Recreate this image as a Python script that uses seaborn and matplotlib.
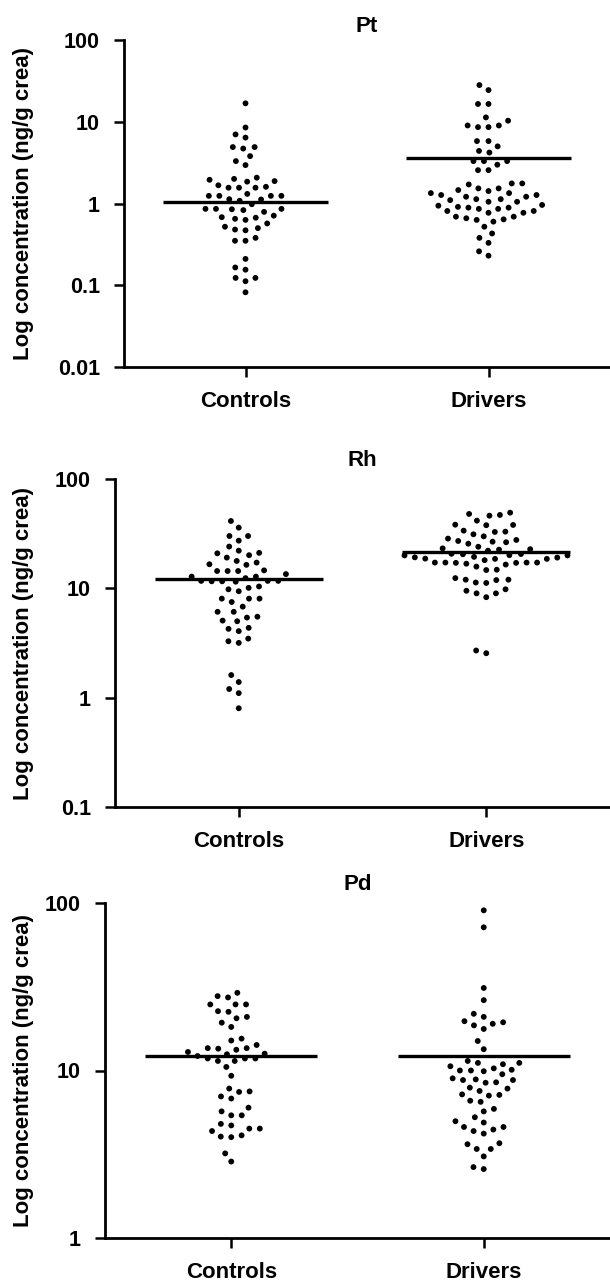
import matplotlib
matplotlib.use('Agg')
import matplotlib.pyplot as plt
from matplotlib.ticker import NullLocator
import seaborn as sns
import pandas as pd

# categories
groups = ['Controls', 'Drivers']

# Pt (ng/g crea)
pt_controls = [16.8, 8.5, 7.0, 6.4, 4.9, 4.7, 4.9, 3.8, 3.3, 2.95, 2.07, 1.95, 1.85, 1.88,
               2.0, 1.6, 1.56, 1.56, 1.56, 1.67, 1.31, 1.24, 1.24, 1.12, 1.13, 1.24, 1.24,
               1.08, 0.98, 0.86, 0.85, 0.83, 0.86, 0.86, 0.79, 0.71, 0.67, 0.63, 0.65, 0.68,
               0.57, 0.52, 0.48, 0.47, 0.50, 0.38, 0.35, 0.35, 0.21, 0.165, 0.155, 0.123,
               0.123, 0.112, 0.082]
pt_drivers = [28.1, 24.4, 16.5, 16.5, 11.3, 10.3, 9.0, 8.6, 8.6, 9.0, 5.8, 5.8, 5.0, 4.4,
              4.2, 3.3, 3.3, 3.3, 2.98, 2.56, 2.56, 1.76, 1.53, 1.46, 1.42, 1.53, 1.71, 1.76,
              1.34, 1.27, 1.21, 1.13, 1.10, 1.05, 1.05, 1.13, 1.21, 1.27, 1.34, 0.94, 0.89,
              0.86, 0.81, 0.77, 0.77, 0.81, 0.86, 0.89, 0.91, 0.96, 0.69, 0.66, 0.63, 0.60,
              0.64, 0.69, 0.52, 0.43, 0.38, 0.33, 0.26, 0.23]
pt_lines = [1.03, 3.56]
pt_ticks = [0.01, 0.1, 1, 10, 100]
pt_labels = ['0.01', '0.1', '1', '10', '100']

# Rh (ng/g crea)
rh_controls = [41.3, 35.9, 30.1, 30.1, 27.3, 24.1, 22.1, 20.9, 19.1, 20.1, 21.1, 17.2, 16.4,
               16.6, 17.8, 14.4, 13.5, 14.6, 14.4, 14.4, 12.8, 12.8, 12.4, 11.7, 11.6, 11.7,
               11.5, 11.6, 11.7, 10.4, 9.8, 10.1, 9.4, 8.05, 8.05, 8.05, 7.5, 6.8, 6.1, 6.1,
               5.4, 5.5, 5.0, 5.07, 4.35, 4.26, 4.06, 3.47, 3.28, 3.17, 1.61, 1.39, 1.20,
               1.10, 0.80]
rh_drivers = [49.2, 46.9, 47.9, 46.2, 41.6, 38.0, 37.8, 38.2, 33.7, 33.0, 32.8, 31.2, 29.9,
              28.5, 27.7, 27.1, 26.7, 26.4, 25.6, 24.0, 23.2, 22.6, 22.1, 22.8, 20.5, 20.0,
              20.0, 20.6, 20.1, 20.7, 19.1, 18.6, 18.6, 18.7, 19.2, 19.4, 18.1, 17.2, 17.1,
              16.8, 16.5, 17.2, 17.1, 17.2, 17.2, 15.8, 14.8, 14.7, 12.4, 12.0, 12.0, 11.9,
              11.2, 11.3, 9.8, 9.5, 9.0, 9.0, 8.3, 2.70, 2.55]
rh_lines = [12.1, 21.5]
rh_ticks = [0.1, 1, 10, 100]
rh_labels = ['0.1', '1', '10', '100']

# Pd (ng/g crea)
pd_controls = [29.1, 27.8, 27.3, 24.8, 24.8, 24.8, 22.6, 22.4, 20.9, 20.5, 19.3, 18.2, 15.5,
               15.1, 14.2, 13.6, 13.5, 13.6, 13.3, 12.9, 12.5, 12.6, 12.2, 11.8, 11.8, 11.8,
               11.4, 11.4, 10.5, 9.3, 7.8, 7.45, 7.5, 7.0, 6.8, 6.0, 5.7, 5.4, 5.4, 4.8, 4.7,
               4.5, 4.35, 4.5, 4.1, 4.03, 4.0, 3.2, 2.86]
pd_drivers = [90.4, 71.6, 31.1, 26.3, 21.8, 20.9, 19.4, 18.6, 19.0, 19.7, 17.7, 15.0, 13.4,
              11.4, 11.1, 11.1, 10.9, 10.6, 10.3, 10.1, 10.0, 9.9, 10.0, 9.5, 8.98, 8.85,
              8.77, 8.77, 8.45, 8.5, 7.9, 7.8, 7.55, 7.2, 7.15, 7.08, 6.6, 6.5, 5.9, 5.7,
              5.26, 4.98, 4.89, 4.6, 4.6, 4.44, 4.35, 4.2, 3.68, 3.63, 3.40, 3.40, 3.07,
              2.65, 2.58]
pd_lines = [12.2, 12.2]
pd_ticks = [1, 10, 100]
pd_labels = ['1', '10', '100']

sns.set_style('ticks')
plt.rcParams['font.family'] = ['Liberation Sans', 'DejaVu Sans']
plt.rcParams['font.weight'] = 'bold'
plt.rcParams['text.color'] = 'black'
plt.rcParams['axes.labelcolor'] = 'black'
plt.rcParams['xtick.color'] = 'black'
plt.rcParams['ytick.color'] = 'black'

W, H = 610, 1286
fig = plt.figure(figsize=(W / 100, H / 100), dpi=100)


def draw_panel(name, controls, drivers, lines, ticks, labels, left, top, bottom, title_pad):
    """One swarm panel, box given in pixels"""
    ax = fig.add_axes([left / W, 1 - bottom / H, (W - left) / W, (bottom - top) / H])
    df = pd.DataFrame({'group': [groups[0]] * len(controls) + [groups[1]] * len(drivers),
                       'value': controls + drivers})
    # transparent edge widens the swarm spacing like the original layout
    sns.swarmplot(data=df, x='group', y='value', order=groups, color='black', size=4.2,
                  linewidth=3, edgecolor='none', log_scale=True, ax=ax)
    for i, v in enumerate(lines):
        ax.hlines(v, i - 0.34, i + 0.34, color='black', lw=2.4, zorder=3)

    ax.set_xlim(-0.5, 1.5)
    ax.set_ylim(ticks[0], ticks[-1])
    ax.set_yticks(ticks, labels)
    ax.yaxis.set_minor_locator(NullLocator())
    ax.set_xlabel('')
    ax.set_ylabel('Log concentration (ng/g crea)', fontsize=16, fontweight='bold',
                  color='black')
    ax.yaxis.set_label_coords((34 - left) / (W - left), 0.5)
    ax.set_title(name, fontsize=16, fontweight='bold', pad=title_pad, color='black')

    sns.despine(ax=ax)
    for s in ['left', 'bottom']:
        ax.spines[s].set_linewidth(2)
        ax.spines[s].set_color('black')
    ax.tick_params(length=7.2, width=1.8, pad=10, color='black', labelcolor='black')
    ax.tick_params(axis='y', labelsize=15.5)
    ax.tick_params(axis='x', labelsize=16)
    return ax


draw_panel('Pt', pt_controls, pt_drivers, pt_lines, pt_ticks, pt_labels, 124, 40, 367, 6)
draw_panel('Rh', rh_controls, rh_drivers, rh_lines, rh_ticks, rh_labels, 115, 479, 807, 9)
draw_panel('Pd', pd_controls, pd_drivers, pd_lines, pd_ticks, pd_labels, 105, 903, 1238, 9)

plt.savefig('out.png', dpi=100)
